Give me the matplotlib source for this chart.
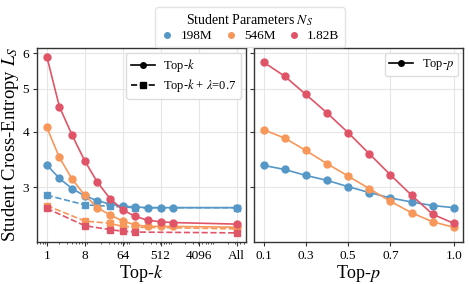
import matplotlib
matplotlib.use("Agg")
import matplotlib.pyplot as plt
from matplotlib.lines import Line2D
from matplotlib.ticker import FixedLocator, NullLocator, LogLocator, FixedFormatter, NullFormatter

plt.rcParams['font.family'] = ['Liberation Serif', 'DejaVu Serif']
plt.rcParams['mathtext.fontset'] = 'stix'

# ---- data ----
models = ["198M", "546M", "1.82B"]
colors = ["#5597C6", "#F8975A", "#E05468"]

topk_k = [1, 2, 4, 8, 16, 32, 64, 128, 256, 512, 1024, 32768]
topk_vals = {
    "198M":  [3.37, 3.14, 2.98, 2.87, 2.80, 2.75, 2.72, 2.71, 2.70, 2.70, 2.70, 2.70],
    "546M":  [4.09, 3.50, 3.13, 2.88, 2.70, 2.60, 2.52, 2.47, 2.45, 2.45, 2.45, 2.44],
    "1.82B": [5.90, 4.55, 3.93, 3.44, 3.08, 2.83, 2.67, 2.58, 2.53, 2.51, 2.50, 2.48],
}
topk_lam_k = [1, 8, 32, 64, 128, 32768]
topk_lam_vals = {
    "198M":  [2.88, 2.74, 2.72, 2.71, 2.70, 2.70],
    "546M":  [2.73, 2.52, 2.49, 2.45, 2.44, 2.42],
    "1.82B": [2.69, 2.46, 2.41, 2.39, 2.38, 2.37],
}
topp_p = [0.1, 0.2, 0.3, 0.4, 0.5, 0.6, 0.7, 0.8, 0.9, 1.0]
topp_vals = {
    "198M":  [3.36, 3.29, 3.19, 3.11, 3.01, 2.92, 2.84, 2.78, 2.73, 2.70],
    "546M":  [4.04, 3.87, 3.63, 3.39, 3.18, 2.98, 2.79, 2.63, 2.51, 2.44],
    "1.82B": [5.73, 5.33, 4.85, 4.41, 3.98, 3.57, 3.20, 2.88, 2.61, 2.49],
}
k_ticks = [1, 8, 64, 512, 4096, 32768]
k_ticklabels = ["1", "8", "64", "512", "4096", "All"]
p_ticks = [0.1, 0.3, 0.5, 0.7, 1.0]
p_ticklabels = ["0.1", "0.3", "0.5", "0.7", "1.0"]
y_ticks = [3, 4, 5, 6]

# ---- figure ----
fig = plt.figure(figsize=(4.69, 2.84), dpi=100)
axL = fig.add_axes([37.3/469, 1-241.7/284, (246-37.3)/469, (241.7-47.7)/284])
axR = fig.add_axes([254/469, 1-241.7/284, (463.3-254)/469, (241.7-47.7)/284], sharey=axL)

ms = 5
lw = 1.2
for m, c in zip(models, colors):
    axL.plot(topk_k, topk_vals[m], '-', marker='o', color=c, ms=ms, lw=lw)
    axL.plot(topk_lam_k, topk_lam_vals[m], '--', marker='s', color=c, ms=ms, lw=lw)
    axR.plot(topp_p, topp_vals[m], '-', marker='o', color=c, ms=ms, lw=lw)

axL.set_xscale('log', base=2)
axL.set_yscale('log')
axL.xaxis.set_major_locator(FixedLocator(k_ticks))
axL.xaxis.set_major_formatter(FixedFormatter(k_ticklabels))
axL.xaxis.set_minor_locator(LogLocator(base=10, subs=range(2, 10)))
axL.xaxis.set_minor_formatter(NullFormatter())
axL.yaxis.set_major_locator(FixedLocator(y_ticks))
axL.yaxis.set_major_formatter(FixedFormatter([str(v) for v in y_ticks]))
axL.yaxis.set_minor_locator(NullLocator())
axL.yaxis.set_minor_formatter(NullFormatter())

axR.xaxis.set_major_locator(FixedLocator(p_ticks))
axR.xaxis.set_major_formatter(FixedFormatter(p_ticklabels))
axR.tick_params(axis='y', labelleft=False)

for ax in (axL, axR):
    ax.grid(True, which='major', color='#e6e6e6', lw=0.8)
    ax.set_axisbelow(True)
    for s in ax.spines.values():
        s.set_color('#333333')
        s.set_linewidth(1.0)
    ax.tick_params(which='major', length=3, width=0.8, color='#333333', labelsize=9.5, pad=3)
    ax.tick_params(which='minor', length=1.5, width=0.6, color='#333333')

axL.set_xlabel("Top-$k$", fontsize=13, labelpad=1)
axR.set_xlabel("Top-$p$", fontsize=13, labelpad=1)
axL.set_ylabel("Student Cross-Entropy $L_S$", fontsize=13.5, labelpad=1)

h1 = [Line2D([], [], color='black', ls='-', marker='o', ms=4, lw=1.2),
      Line2D([], [], color='black', ls='--', marker='s', ms=4, lw=1.2)]
axL.legend(h1, ["Top-$k$", "Top-$k$ + $\\lambda$=0.7"], loc='upper right', fontsize=9,
           frameon=True, fancybox=True, framealpha=1, edgecolor='#dddddd',
           handlelength=1.9, labelspacing=0.25, handletextpad=0.7,
           borderpad=0.35, borderaxespad=0.4)
h2 = [Line2D([], [], color='black', ls='-', marker='o', ms=4, lw=1.2)]
axR.legend(h2, ["Top-$p$"], loc='upper right', fontsize=9,
           frameon=True, fancybox=True, framealpha=1, edgecolor='#dddddd',
           handlelength=1.9, handletextpad=0.7, borderpad=0.35, borderaxespad=0.4)

hm = [Line2D([], [], color=c, ls='', marker='o', ms=4) for c in colors]
fig.legend(hm, models, loc='upper center', bbox_to_anchor=(250/469, 0.985), ncol=3,
           title="Student Parameters $N_S$", title_fontsize=10, fontsize=9.5,
           frameon=True, fancybox=True, edgecolor='#dddddd', handletextpad=0.5,
           columnspacing=0.9, borderpad=0.4, labelspacing=0.15, handlelength=1.0,
           borderaxespad=0.2)

fig.savefig("out.png", dpi=100)
